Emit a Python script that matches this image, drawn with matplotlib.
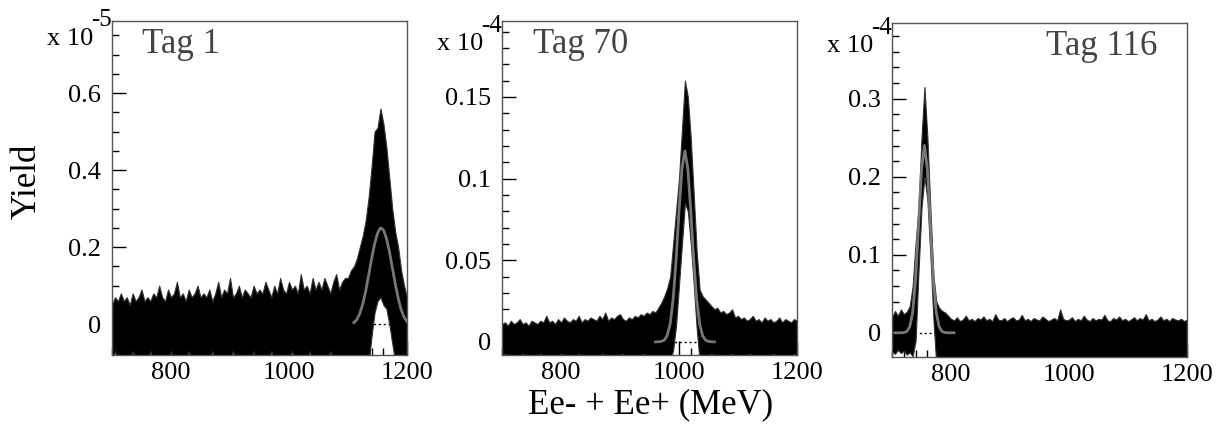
import matplotlib
matplotlib.use("Agg")
import matplotlib.pyplot as plt
from matplotlib.ticker import MultipleLocator, FixedLocator, FixedFormatter

plt.rcParams["font.family"] = ["Liberation Serif", "DejaVu Serif"]

# bin centres (MeV), 5 MeV steps
energy = list(range(700, 1201, 5))

# Tag 1 (x 1e-5): upper / lower edge of the data band (points + errors)
tag1_hi = [0.05, 0.07, 0.06, 0.08, 0.06, 0.07, 0.05, 0.08, 0.06, 0.07, 0.09, 0.06, 0.07,
           0.06, 0.08, 0.07, 0.10, 0.07, 0.06, 0.09, 0.07, 0.08, 0.11, 0.07, 0.08, 0.06,
           0.09, 0.07, 0.08, 0.10, 0.07,
           0.08, 0.07, 0.09, 0.06, 0.08, 0.11, 0.07, 0.09, 0.08, 0.12, 0.07, 0.08, 0.10,
           0.07, 0.09, 0.08, 0.07, 0.10, 0.08, 0.09,
           0.08, 0.11, 0.09, 0.07, 0.10, 0.08, 0.12, 0.09, 0.08, 0.11, 0.09, 0.10, 0.08,
           0.13, 0.09, 0.10, 0.08, 0.12, 0.09, 0.11,
           0.09, 0.12, 0.10, 0.08, 0.11, 0.13, 0.09, 0.11, 0.12, 0.12,
           0.14, 0.15, 0.17, 0.20, 0.23, 0.27, 0.33, 0.41, 0.50, 0.51, 0.56, 0.52, 0.46,
           0.38, 0.30, 0.24, 0.20, 0.14, 0.10, 0.07]
tag1_lo = [-0.10, -0.07, -0.10, -0.10, -0.08, -0.10, -0.10, -0.07, -0.10, -0.10,
           -0.10, -0.08, -0.10, -0.07, -0.10, -0.10, -0.10, -0.08, -0.10, -0.10,
           -0.07, -0.10, -0.10, -0.10, -0.08, -0.10, -0.07, -0.10, -0.10, -0.10,
           -0.10, -0.08, -0.10, -0.10, -0.07, -0.10, -0.10, -0.08, -0.10, -0.10,
           -0.10, -0.07, -0.10, -0.10, -0.10, -0.08, -0.10, -0.10, -0.07, -0.10,
           -0.10, -0.10, -0.08, -0.10, -0.07, -0.10, -0.10, -0.10, -0.08, -0.10,
           -0.10, -0.07, -0.10, -0.10, -0.10, -0.08, -0.10, -0.07, -0.10, -0.10,
           -0.10, -0.10, -0.08, -0.10, -0.07, -0.10, -0.10, -0.10, -0.08, -0.10, -0.10,
           -0.10, -0.10, -0.10, -0.10, -0.10, -0.10, -0.10, -0.03, 0.03, 0.06, 0.07,
           0.05, 0.04, 0.00, -0.05, -0.10, -0.10, -0.10, -0.10, -0.10]

# Tag 70 (x 1e-4)
tag70_hi = [0.011, 0.012, 0.010, 0.013, 0.011, 0.012, 0.014, 0.011, 0.012, 0.010, 0.013,
            0.012, 0.011,
            0.013, 0.012, 0.016, 0.012, 0.013, 0.011, 0.014, 0.012, 0.015, 0.013, 0.012,
            0.014, 0.013, 0.016, 0.012, 0.014, 0.013, 0.015,
            0.014, 0.013, 0.016, 0.014, 0.018, 0.013, 0.015, 0.014, 0.016, 0.017, 0.014,
            0.013, 0.015, 0.014, 0.016, 0.015, 0.017, 0.016, 0.018, 0.017,
            0.019, 0.018, 0.021, 0.024, 0.028, 0.033, 0.040, 0.060, 0.080, 0.100, 0.130,
            0.160, 0.150, 0.124, 0.090, 0.055, 0.032, 0.028, 0.026, 0.024,
            0.022, 0.020, 0.021, 0.018, 0.019, 0.017, 0.018, 0.020, 0.015, 0.016, 0.014,
            0.015, 0.013, 0.014, 0.016, 0.013, 0.014, 0.012, 0.015, 0.013, 0.014, 0.012,
            0.013, 0.015, 0.012, 0.014, 0.013, 0.012, 0.014, 0.013]
tag70_lo = [-0.012, -0.007, -0.012, -0.012, -0.009, -0.012, -0.012, -0.007, -0.012, -0.012,
            -0.012, -0.009, -0.012, -0.007, -0.012, -0.012, -0.012, -0.009, -0.012, -0.012,
            -0.007, -0.012, -0.012, -0.012, -0.009, -0.012, -0.007, -0.012, -0.012, -0.012,
            -0.012, -0.009, -0.012, -0.012, -0.007, -0.012, -0.012, -0.009, -0.012, -0.012,
            -0.012, -0.007, -0.012, -0.012, -0.012, -0.009, -0.012, -0.012, -0.007, -0.012,
            -0.012, -0.012, -0.009, -0.012, -0.012, -0.012, -0.012,
            -0.012, -0.005, 0.010, 0.035, 0.060, 0.085, 0.080, 0.060, 0.035, 0.008, -0.012,
            -0.012, -0.009, -0.012, -0.007, -0.012, -0.012, -0.012, -0.009, -0.012, -0.012,
            -0.007, -0.012, -0.012, -0.012, -0.009, -0.012, -0.007, -0.012, -0.012, -0.012,
            -0.012, -0.009, -0.012, -0.012, -0.007, -0.012, -0.012, -0.009, -0.012, -0.012,
            -0.012, -0.007, -0.012]

# Tag 116 (x 1e-4)
tag116_hi = [0.020, 0.028, 0.022, 0.030, 0.024, 0.027, 0.034, 0.060, 0.115, 0.160,
             0.250, 0.315, 0.250, 0.160, 0.075, 0.040, 0.032, 0.028, 0.026, 0.022,
             0.018, 0.016, 0.020, 0.015, 0.017, 0.022, 0.016, 0.018, 0.015, 0.019,
             0.017, 0.021, 0.016, 0.018, 0.015, 0.024, 0.017, 0.016, 0.019, 0.015,
             0.018, 0.020, 0.016, 0.017, 0.023, 0.016, 0.018, 0.015, 0.019, 0.017,
             0.016, 0.021, 0.018, 0.015, 0.017, 0.019, 0.016, 0.030, 0.018, 0.016,
             0.017, 0.020, 0.015, 0.018, 0.016, 0.022, 0.017, 0.015, 0.019, 0.016,
             0.018, 0.017, 0.023, 0.016, 0.015, 0.019, 0.017, 0.021, 0.016, 0.018,
             0.015, 0.017, 0.020, 0.016, 0.019, 0.017, 0.024, 0.016, 0.018, 0.015,
             0.017, 0.021, 0.016, 0.018, 0.015, 0.019, 0.017, 0.016, 0.018, 0.015, 0.017]
tag116_lo = [-0.024, -0.027, -0.022, -0.026, -0.023, -0.028, -0.025,
             -0.030, -0.010, 0.080, 0.160, 0.200, 0.170, 0.100, 0.020, -0.040] + [-0.040] * 85

# gaussian fits
tag1_fit_x = list(range(1110, 1201, 5))
tag1_fit = [0.004, 0.012, 0.028, 0.052, 0.086, 0.127, 0.170, 0.208, 0.236, 0.250,
            0.245, 0.224, 0.190, 0.148, 0.106, 0.068, 0.038, 0.018, 0.007]
tag70_fit_x = list(range(960, 1061, 5))
tag70_fit = [0.0, 0.0001, 0.0003, 0.0011, 0.0039, 0.011, 0.026, 0.050, 0.080, 0.106, 0.117,
             0.106, 0.080, 0.050, 0.026, 0.011, 0.0039, 0.0011, 0.0003, 0.0001, 0.0]
tag116_fit_x = list(range(705, 806, 5))
tag116_fit = [0.0, 0.0, 0.0, 0.0003, 0.0016, 0.0075, 0.026, 0.069, 0.138, 0.209, 0.240,
              0.209, 0.138, 0.069, 0.026, 0.0075, 0.0016, 0.0003, 0.0, 0.0, 0.0]

panels = [
    dict(name="Tag 1", hi=tag1_hi, lo=tag1_lo, fx=tag1_fit_x, fy=tag1_fit, exp="-5",
         ylim=(-0.08, 0.787), yticks=[0, 0.2, 0.4, 0.6], ylabels=["0", "0.2", "0.4", "0.6"],
         minor=0.05, pos=[112, 21, 355], tagx=0.10, ha="left", mult_y=(0.928, 0.985)),
    dict(name="Tag 70", hi=tag70_hi, lo=tag70_lo, fx=tag70_fit_x, fy=tag70_fit, exp="-4",
         ylim=(-0.008, 0.1965), yticks=[0, 0.05, 0.1, 0.15], ylabels=["0", "0.05", "0.1", "0.15"],
         minor=0.01, pos=[502, 21, 355], tagx=0.105, ha="left", mult_y=(0.913, 0.967)),
    dict(name="Tag 116", hi=tag116_hi, lo=tag116_lo, fx=tag116_fit_x, fy=tag116_fit, exp="-4",
         ylim=(-0.031, 0.397), yticks=[0, 0.1, 0.2, 0.3], ylabels=["0", "0.1", "0.2", "0.3"],
         minor=0.02, pos=[892, 23, 357], tagx=0.90, ha="right", mult_y=(0.913, 0.967)),
]

W, H = 1227, 426
fig = plt.figure(figsize=(W / 100, H / 100), dpi=100)

for p in panels:
    left, top, bottom = p["pos"]
    ax = fig.add_axes([left / W, (H - bottom) / H, 295 / W, (bottom - top) / H])

    # dotted zero line of the fit background, mostly hidden by the data
    ax.plot([p["fx"][0], p["fx"][-1]], [0, 0], color="black", ls=(0, (1.5, 2)), lw=1, zorder=1)
    ax.fill_between(energy, p["lo"], p["hi"], color="black",
                    edgecolor="#333333", lw=0.8, zorder=2)
    ax.plot(p["fx"], p["fy"], color="#777777", lw=2, zorder=3)

    ax.set_xlim(700, 1200)
    ax.set_ylim(*p["ylim"])
    ax.xaxis.set_major_locator(FixedLocator([800, 1000, 1200]))
    ax.xaxis.set_minor_locator(MultipleLocator(20))
    ax.yaxis.set_major_locator(FixedLocator(p["yticks"]))
    ax.yaxis.set_major_formatter(FixedFormatter(p["ylabels"]))
    ax.yaxis.set_minor_locator(MultipleLocator(p["minor"]))
    ax.tick_params(which="both", direction="in", top=False, right=False,
                   labelsize=19, colors="black")
    ax.tick_params(which="major", length=10, width=1)
    ax.tick_params(which="minor", length=5, width=1)
    ax.tick_params(axis="y", pad=8)
    ax.tick_params(axis="x", pad=5)
    for s in ax.spines.values():
        s.set_color("#555555")
        s.set_linewidth(1)

    ax.text(p["tagx"], 0.904, p["name"], transform=ax.transAxes, ha=p["ha"],
            va="baseline", fontsize=25, color="#444444")
    ax.text(-0.062, p["mult_y"][0], "x 10", transform=ax.transAxes, ha="right",
            va="baseline", fontsize=19)
    ax.text(-0.072, p["mult_y"][1], p["exp"], transform=ax.transAxes, ha="left",
            va="baseline", fontsize=18)

fig.text(27 / W, 1 - 181 / H, "Yield", rotation=90, ha="center", va="center", fontsize=25)
fig.text(651 / W, 1 - 405 / H, "Ee- + Ee+ (MeV)", ha="center", va="center", fontsize=25)

fig.savefig("out.png", dpi=100)
